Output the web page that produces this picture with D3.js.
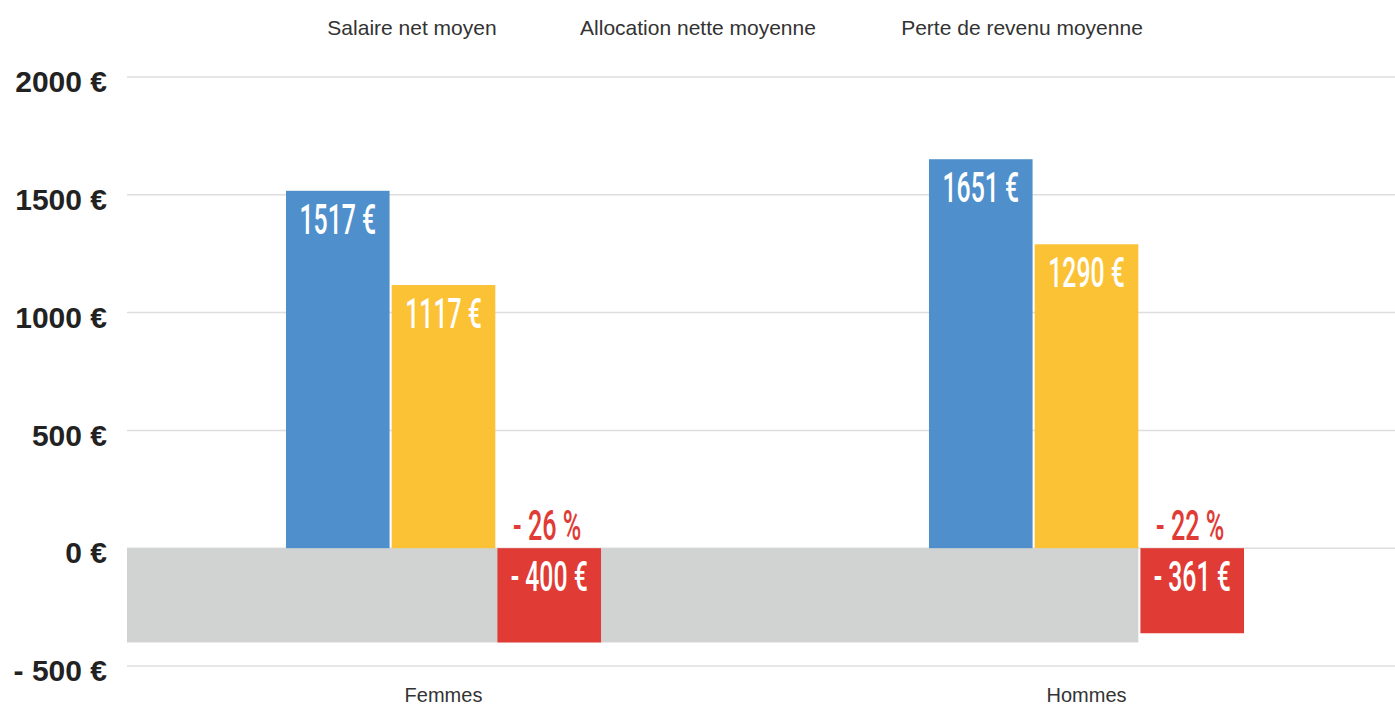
<!DOCTYPE html>
<html>
<head>
<meta charset="utf-8">
<script src="https://cdn.jsdelivr.net/npm/d3@7"></script>
<style>
  html, body { margin: 0; padding: 0; background: #fff; }
  svg { display: block; }
</style>
</head>
<body>
<svg id="chart" width="1395" height="705"></svg>
<script>
// ---- data ----
const categories = ["Femmes", "Hommes"];
const seriesNames = ["Salaire net moyen", "Allocation nette moyenne", "Perte de revenu moyenne"];
const salaire = [1517, 1651];
const allocation = [1117, 1290];
const perte = [-400, -361];
const pertePct = ["- 26 %", "- 22 %"];
const yTicks = [-500, 0, 500, 1000, 1500, 2000];
const colors = ["#4f8fcc", "#fbc236", "#e03b35"];

const svg = d3.select("#chart");
const plotLeft = 127, plotRight = 1395;

const y = d3.scaleLinear().domain([-500, 2000]).range([666, 77]);
const x0 = d3.scaleBand().domain(categories).range([122, 1408]).paddingInner(0.51).paddingOuter(0.255);
const x1 = d3.scaleBand().domain(seriesNames).range([0, x0.bandwidth()]).paddingInner(0.02);

const rows = categories.map((c, i) => ({
  cat: c,
  vals: [salaire[i], allocation[i], perte[i]],
  pct: pertePct[i]
}));

// gridlines
svg.append("g").selectAll("line").data(yTicks).join("line")
  .attr("x1", plotLeft).attr("x2", plotRight)
  .attr("y1", d => y(d)).attr("y2", d => y(d))
  .attr("stroke", "#dedede").attr("stroke-width", 1.5);

// y axis labels
const yAxis = d3.axisLeft(y).tickValues(yTicks).tickSize(0).tickPadding(0)
  .tickFormat(d => (d < 0 ? "- " + Math.abs(d) : d) + " €");
const gy = svg.append("g").attr("transform", "translate(107,5)").call(yAxis);
gy.select(".domain").remove();
gy.selectAll("text")
  .attr("font-family", "Liberation Sans, Arial, sans-serif")
  .attr("font-weight", "bold").attr("font-size", 30).attr("fill", "#222");

// grey background band behind the losses
const minLoss = d3.min(perte);
const greyRight = x0(categories[1]) + x1(seriesNames[1]) + x1.bandwidth();
svg.append("rect")
  .attr("x", plotLeft).attr("y", y(0))
  .attr("width", greyRight - plotLeft).attr("height", y(minLoss) - y(0))
  .attr("fill", "#d1d3d2");

// bars
const groups = svg.append("g").selectAll("g").data(rows).join("g")
  .attr("transform", d => `translate(${x0(d.cat)},0)`);

groups.selectAll("rect").data(d => d.vals.map((v, k) => ({ v, k }))).join("rect")
  .attr("x", d => x1(seriesNames[d.k]))
  .attr("width", x1.bandwidth())
  .attr("y", d => y(Math.max(0, d.v)))
  .attr("height", d => Math.abs(y(d.v) - y(0)))
  .attr("fill", d => colors[d.k]);

const fmt = v => (v < 0 ? "- " + Math.abs(v) : v) + " €";
const labelFont = "Roboto, 'Open Sans', sans-serif";

groups.selectAll("text.val").data(d => d.vals.map((v, k) => ({ v, k }))).join("text")
  .attr("class", "val")
  .attr("transform", d => {
    const cx = x1(seriesNames[d.k]) + x1.bandwidth() / 2;
    const top = y(Math.max(0, d.v));
    return `translate(${cx},${top + 43}) scale(0.59,1)`;
  })
  .attr("text-anchor", "middle")
  .attr("font-family", labelFont).attr("font-weight", 500).attr("font-size", 42)
  .attr("fill", "#fff")
  .text(d => fmt(d.v));

groups.append("text")
  .attr("transform", d => {
    const cx = x1(seriesNames[2]) + x1.bandwidth() / 2;
    return `translate(${cx - 2},${y(0) - 8}) scale(0.6,1)`;
  })
  .attr("text-anchor", "middle")
  .attr("font-family", labelFont).attr("font-weight", 500).attr("font-size", 42)
  .attr("fill", colors[2])
  .text(d => d.pct);

// x axis category labels
const xAxis = d3.axisBottom(x0).tickSize(0).tickPadding(0);
const gx = svg.append("g").attr("transform", "translate(0,708)").call(xAxis);
gx.select(".domain").remove();
gx.selectAll("text")
  .attr("dy", "-0.3em")
  .attr("font-family", "Liberation Sans, Arial, sans-serif")
  .attr("font-size", 20).attr("fill", "#333");

// legend (text only)
const legendX = [412, 698, 1022];
svg.append("g").selectAll("text").data(seriesNames).join("text")
  .attr("x", (d, i) => legendX[i]).attr("y", 35)
  .attr("text-anchor", "middle")
  .attr("font-family", "Liberation Sans, Arial, sans-serif")
  .attr("font-size", 21).attr("fill", "#333")
  .text(d => d);
</script>
</body>
</html>
